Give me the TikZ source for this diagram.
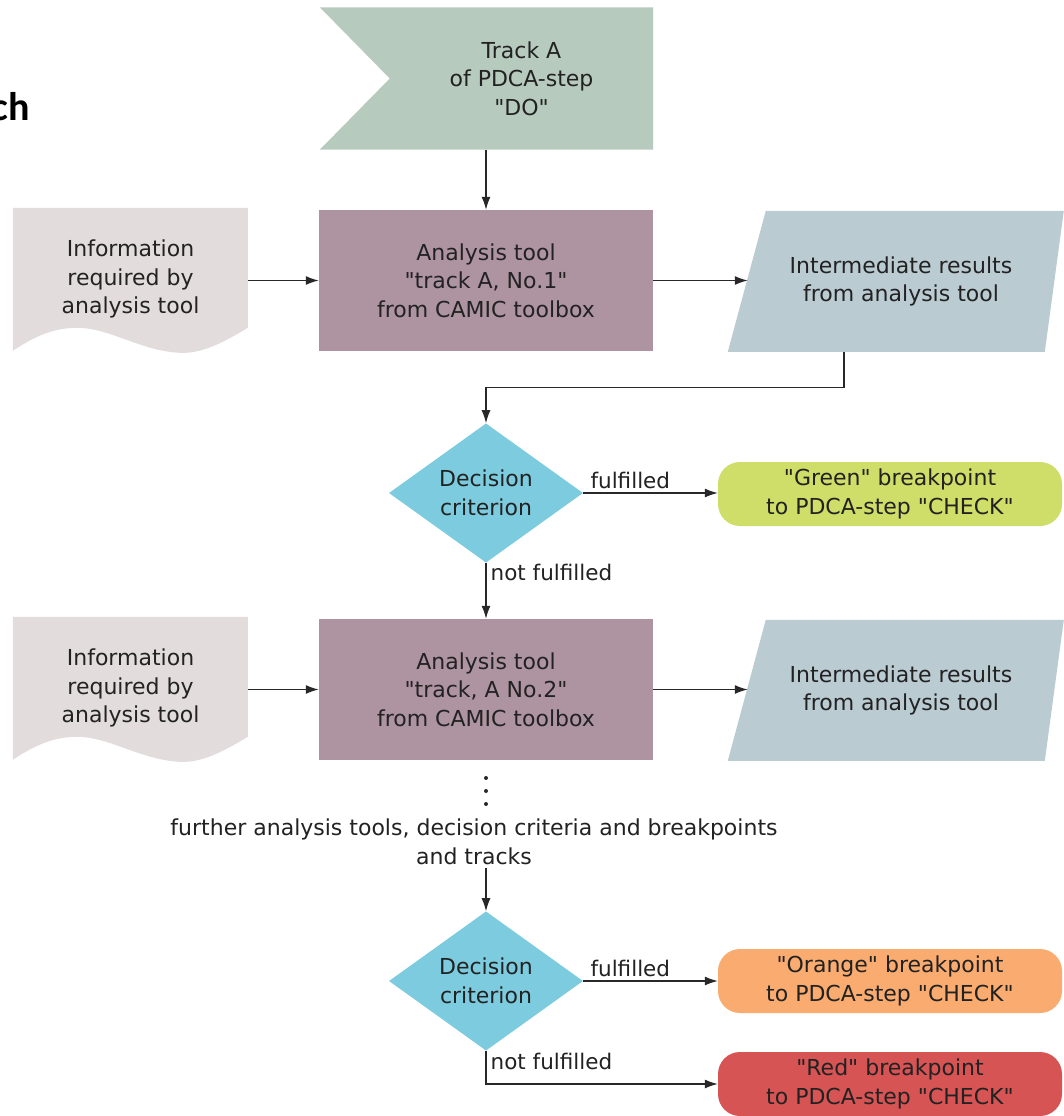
\documentclass[tikz,border=0pt]{standalone}
\usepackage{fontspec}
\setmainfont{DejaVu Sans}[Ligatures=TeXOff]
\newfontfamily\headfont{Carlito}
\usetikzlibrary{arrows.meta,shapes.geometric,calc}
\pgfdeclarelayer{background}
\pgfsetlayers{background,main}

\definecolor{flagfill}{RGB}{183,202,190}
\definecolor{toolfill}{RGB}{174,148,160}
\definecolor{docfill}{RGB}{227,220,221}
\definecolor{resfill}{RGB}{186,203,210}
\definecolor{decfill}{RGB}{124,203,222}
\definecolor{greenfill}{RGB}{206,222,104}
\definecolor{orangefill}{RGB}{250,172,112}
\definecolor{redfill}{RGB}{214,84,84}
\definecolor{ink}{RGB}{34,34,34}
\definecolor{wire}{RGB}{40,40,40}

% wavy-bottomed document sheet behind a node
\newcommand{\docsheet}[1]{%
  \begin{pgfonlayer}{background}
    \fill[docfill, shift={(#1.north west)}]
      (0,0) -- (235,0) -- (235,120)
      .. controls (207,137) and (187,146) .. (167,145)
      .. controls (127,143) and (97,120) .. (64,120)
      .. controls (37,120) and (17,132) .. (0,143) -- cycle;
  \end{pgfonlayer}}
% slanted data sheet behind a node
\newcommand{\datasheet}[1]{%
  \begin{pgfonlayer}{background}
    \fill[resfill, shift={(#1.north west)}]
      (18,0) -- (316,0) -- (297,141) -- (-20,141) -- cycle;
  \end{pgfonlayer}}

\begin{document}
\begin{tikzpicture}[x=1pt,y=-1pt,
  every node/.style={font=\fontsize{22}{28.5}\selectfont, text=ink, align=center, inner sep=0pt},
  tool/.style={rectangle, fill=toolfill, minimum width=334pt, minimum height=141pt},
  docbox/.style={rectangle, minimum width=235pt, minimum height=142pt},
  resbox/.style={rectangle, minimum width=306pt, minimum height=141pt},
  decision/.style={diamond, fill=decfill, minimum width=194pt, minimum height=130pt},
  term/.style={rectangle, rounded corners=22pt, minimum width=344pt, minimum height=64pt},
  lbl/.style={font=\fontsize{21.5}{26}\selectfont, inner sep=4pt},
  arr/.style={draw=wire, line width=1.3pt, -{Latex[length=13pt,width=9pt]}},
]
\begin{pgfonlayer}{background}
  \fill[white] (0,0) rectangle (1064,1116);
\end{pgfonlayer}
\useasboundingbox (0,0) rectangle (1064,1116);

\node (title) [font=\headfont\bfseries\fontsize{40}{44}\selectfont, text=black, anchor=base east] at (30,120) {ch};

% start of the track
\node (top) [rectangle, minimum width=263pt, minimum height=142pt] at (521.5,78.5) {Track A\\of PDCA-step\\"DO"};
\begin{pgfonlayer}{background}
  \fill[flagfill] ([xshift=-70pt]top.north west) -- (top.north east) -- (top.south east)
    -- ([xshift=-70pt]top.south west) -- (top.west) -- cycle;
\end{pgfonlayer}

% first analysis tool
\node (tool1) [tool] at (486,280.5) {Analysis tool\\"track A, No.1"\\from CAMIC toolbox};
\node (info1) [docbox] at (130.5,279) {Information\\required by\\analysis tool};
\docsheet{info1}
\node (res1) [resbox] at (901,281.5) {Intermediate results\\from analysis tool};
\datasheet{res1}

\node (dec1) [decision] at (486,493) {Decision\\criterion};
\node (green) [term, fill=greenfill] at (890,494) {"Green" breakpoint\\to PDCA-step "CHECK"};

% second analysis tool
\node (tool2) [tool] at (486,689.5) {Analysis tool\\"track, A No.2"\\from CAMIC toolbox};
\node (info2) [docbox] at (130.5,688) {Information\\required by\\analysis tool};
\docsheet{info2}
\node (res2) [resbox] at (901,690.5) {Intermediate results\\from analysis tool};
\datasheet{res2}

\foreach \yy in {778,791,804} \fill[wire] (486,\yy) circle (2pt);
\node (more) [inner sep=3pt] at (474,842) {further analysis tools, decision criteria and breakpoints\\and tracks};

\node (dec2) [decision] at (486,981) {Decision\\criterion};
\node (orange) [term, fill=orangefill] at (890,981) {"Orange" breakpoint\\to PDCA-step "CHECK"};
\node (red) [term, fill=redfill] at (890,1084) {"Red" breakpoint\\to PDCA-step "CHECK"};

% connectors
\draw[arr] (top.south -| tool1.north) -- (tool1.north);
\draw[arr] (info1.east |- tool1.west) -- (tool1.west);
\draw[arr] (tool1.east) -- (tool1.east -| res1.west);
\draw[arr] ([xshift=-57pt]res1.south) -- ++(0,35) -| (dec1.north);
\draw[arr] (dec1.east) -- node[lbl, above, pos=0.35] {fulfilled} (dec1.east -| green.west);
\draw[arr] (dec1.south) -- node[lbl, right, pos=0.18] {not fulfilled} (tool2.north);
\draw[arr] (info2.east |- tool2.west) -- (tool2.west);
\draw[arr] (tool2.east) -- (tool2.east -| res2.west);
\draw[arr] (more.south -| dec2.north) -- (dec2.north);
\draw[arr] (dec2.east) -- node[lbl, above, pos=0.35] {fulfilled} (dec2.east -| orange.west);
\draw[arr] (dec2.south) |- node[lbl, right, pos=0.16] {not fulfilled} (red.west);
\end{tikzpicture}
\end{document}
